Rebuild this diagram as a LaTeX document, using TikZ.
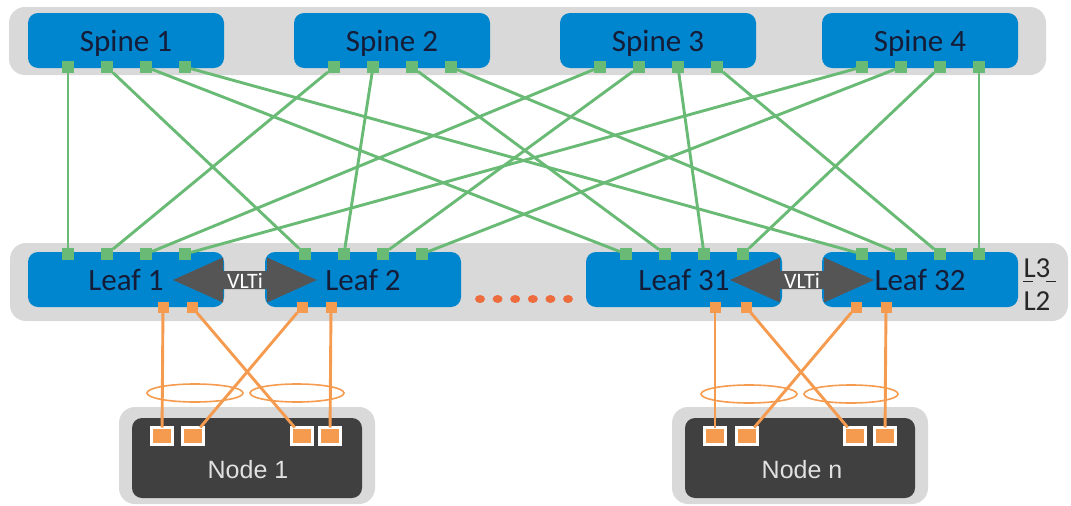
\documentclass[tikz,border=0pt]{standalone}
\usepackage{fontspec}
\setmainfont{Carlito}
\newfontfamily\hostfont{Liberation Sans}
\definecolor{swblue}{RGB}{0,134,206}
\definecolor{bandgray}{RGB}{217,217,217}
\definecolor{lgreen}{RGB}{104,186,116}
\definecolor{lorange}{RGB}{245,155,80}
\definecolor{dotorange}{RGB}{236,108,62}
\definecolor{nodedark}{RGB}{64,64,64}
\definecolor{vltgray}{RGB}{85,85,85}
\definecolor{navytext}{RGB}{20,28,55}
\definecolor{hosttext}{RGB}{225,225,225}
\begin{document}
\begin{tikzpicture}[x=1pt,y=-1pt,
  band/.style={fill=bandgray, draw=none},
  switchbox/.style={fill=swblue, draw=none, rounded corners=10pt, minimum width=196pt, minimum height=55pt, inner sep=0pt, text=navytext, text depth=0pt, font=\fontsize{31}{36}\selectfont},
  gport/.style={fill=lgreen, draw=none, minimum size=12pt, inner sep=0pt, outer sep=0pt},
  oport/.style={fill=lorange, draw=none, minimum size=11pt, inner sep=0pt, outer sep=0pt},
  hport/.style={fill=lorange, draw=white, line width=2.5pt, minimum width=21pt, minimum height=17pt, inner sep=0pt, outer sep=0pt},
  glink/.style={draw=lgreen, line width=2.9pt},
  olink/.style={draw=lorange, line width=2.9pt},
  lag/.style={draw=lorange, line width=1.6pt},
  hostbox/.style={fill=nodedark, draw=none, rounded corners=10pt, minimum width=230pt, minimum height=80pt, inner sep=0pt},
  hostlabel/.style={text=hosttext, font=\hostfont\fontsize{25}{30}\selectfont, inner sep=0pt},
  vltiarrow/.style={fill=vltgray, draw=none},
  vltilabel/.style={text=white, font=\fontsize{22}{26}\selectfont, inner sep=0pt},
  layerlabel/.style={text=black!85, font=\fontsize{29}{34}\selectfont, inner sep=0pt, text depth=0pt}
]
\useasboundingbox (0,0) rectangle (1071,506);
% background bands
\path[band, rounded corners=16pt] (9,7) rectangle (1046,75);
\path[band, rounded corners=16pt] (10,243) rectangle (1068,321);
\path[band, rounded corners=16pt] (119,407) rectangle (375,504);
\path[band, rounded corners=16pt] (672,407) rectangle (928,504);
% spines
\foreach \i/\L in {1/28,2/294,3/560,4/822} {
  \node[switchbox] (spine\i) at (\L+98,40.5) {Spine \i};
  \foreach \j/\o in {1/40,2/79,3/118,4/157}
    \node[gport] (s\i-\j) at (\L+\o,67) {};
}
% leaves
\foreach \i/\L/\t in {1/28/1,2/265/2,3/586/31,4/822/32} {
  \node[switchbox] (leaf\i) at (\L+98,279.5) {Leaf \t};
  \foreach \j/\o in {1/40,2/79,3/118,4/157}
    \node[gport] (l\i-\j) at (\L+\o,254) {};
}
% spine-leaf links
\foreach \i in {1,...,4}
  \foreach \j in {1,...,4}
    \draw[glink] (s\i-\j) -- (l\j-\i);
% VLTi arrows
\foreach \cx/\k in {245/1,802/2} {
  \path[vltiarrow] (\cx-72,280) -- (\cx-22,257.5) -- (\cx-22,271) -- (\cx+22,271) -- (\cx+22,257.5) -- (\cx+72,280)
     -- (\cx+22,302.5) -- (\cx+22,289) -- (\cx-22,289) -- (\cx-22,302.5) -- cycle;
  \node[vltilabel] (vlti\k) at (\cx,281) {VLTi};
}
% dots
\foreach \x in {480,497.6,515.2,532.8,550.4,568}
  \fill[dotorange] (\x,299) ellipse [x radius=5, y radius=4];
% L3 / L2
\node[layerlabel] (l3) at (1037,268) {L3};
\node[layerlabel] (l2) at (1037,301) {L2};
\draw[black!85, line width=1.4pt, dash pattern=on 10pt off 13pt] (1023,281.5) -- (1056,281.5);
% leaf downlink ports
\foreach \n/\x in {b1a/163,b1b/192,b2a/302,b2b/331,b3a/715,b3b/746,b4a/856,b4b/886}
  \node[oport] (\n) at (\x,307) {};
% hosts
\node[hostbox] (host1) at (247,458) {};
\node[hostlabel] (host1label) at (248,470) {Node 1};
\node[hostbox] (hostn) at (800,458) {};
\node[hostlabel] (hostnlabel) at (802,470) {Node n};
\foreach \n/\x in {h1a/162,h1b/193,h1c/302,h1d/330,hna/715,hnb/747,hnc/855,hnd/885}
  \node[hport] (\n) at (\x,436) {};
% LAG rings
\draw[lag] (195,393) ellipse [x radius=48, y radius=9];
\draw[lag] (297,393) ellipse [x radius=47, y radius=9];
\draw[lag] (749,394) ellipse [x radius=48, y radius=9];
\draw[lag] (851,394) ellipse [x radius=47, y radius=9];
% host links
\draw[olink] (b1a) -- (h1a);
\draw[olink] (b1b) -- (h1c);
\draw[olink] (b2a) -- (h1b);
\draw[olink] (b2b) -- (h1d);
\draw[olink] (b3a) -- (hna);
\draw[olink] (b3b) -- (hnc);
\draw[olink] (b4a) -- (hnb);
\draw[olink] (b4b) -- (hnd);
\end{tikzpicture}
\end{document}
